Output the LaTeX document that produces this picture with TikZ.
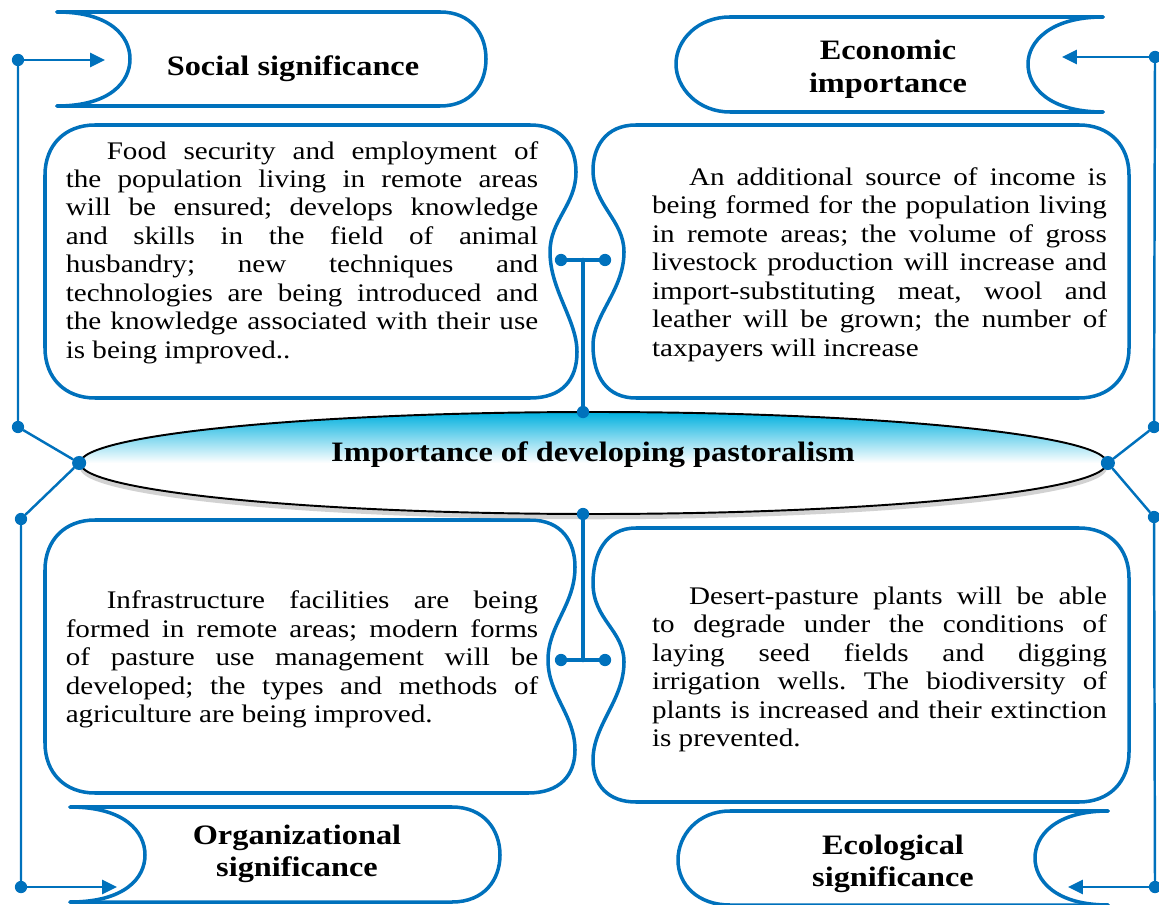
\documentclass[tikz,border=0pt]{standalone}
\usepackage{fontspec}
\setmainfont{Liberation Serif}[FakeStretch=1.15]
\usetikzlibrary{arrows.meta,shapes.geometric,shadows}
\definecolor{pblue}{RGB}{0,113,188}
\definecolor{pcyan}{RGB}{0,176,222}
\frenchspacing

\begin{document}
\begin{tikzpicture}[x=0.02cm, y=-0.02cm, line join=round, line cap=round,
    >={Triangle[length=8.5pt,width=8pt]},
    frame/.style={draw=pblue, line width=2pt},
    dot/.style={circle, fill=pblue, inner sep=0pt, minimum size=7pt},
    link/.style={draw=pblue, line width=1.4pt},
    stem/.style={draw=pblue, line width=2.6pt},
    head/.style={font=\fontsize{16}{18.5}\selectfont\bfseries, align=center, inner sep=0pt},
    body/.style={font=\fontsize{14.4}{16.2}\selectfont, align=justify, inner sep=0pt,
        execute at begin node={\tolerance=10000 \hbadness=10000 \hyphenpenalty=10000 \exhyphenpenalty=10000}}]
    \path[fill=white, use as bounding box] (0,0) rectangle (1159,905);
    % text boxes
    \draw[frame] (95,125) -- (530,125) .. controls (565,125) and (576,150) .. (576,172)
        .. controls (576,205) and (550,220) .. (550,252) .. controls (550,290) and (577,320) .. (577,352)
        .. controls (577,380) and (562,398) .. (530,398) -- (95,398) .. controls (65,398) and (45,378) .. (45,348)
        -- (45,175) .. controls (45,145) and (65,125) .. (95,125) -- cycle;
    \draw[frame] (1079,125) -- (636,125) .. controls (605,125) and (593,148) .. (593,170)
        .. controls (593,205) and (624,220) .. (624,252) .. controls (624,290) and (593,315) .. (593,345)
        .. controls (593,378) and (608,398) .. (636,398) -- (1079,398) .. controls (1109,398) and (1129,378) .. (1129,348)
        -- (1129,175) .. controls (1129,145) and (1109,125) .. (1079,125) -- cycle;
    \draw[frame] (95,520) -- (530,520) .. controls (562,520) and (575,542) .. (575,567)
        .. controls (575,605) and (548,625) .. (548,660) .. controls (548,695) and (575,715) .. (575,750)
        .. controls (575,775) and (560,793) .. (528,793) -- (95,793) .. controls (65,793) and (45,773) .. (45,743)
        -- (45,570) .. controls (45,540) and (65,520) .. (95,520) -- cycle;
    \draw[frame] (1079,528) -- (636,528) .. controls (605,528) and (593,555) .. (593,583)
        .. controls (593,620) and (624,630) .. (624,662) .. controls (624,700) and (593,725) .. (593,760)
        .. controls (593,785) and (608,802) .. (636,802) -- (1079,802) .. controls (1109,802) and (1129,782) .. (1129,752)
        -- (1129,578) .. controls (1129,548) and (1109,528) .. (1079,528) -- cycle;
    % banners
    \draw[frame] (57,12) -- (440,12) .. controls (472,12) and (486,35) .. (486,59) .. controls (486,83) and (472,106) .. (440,106) -- (57,106);
    \draw[frame] (57,12) .. controls (110,12) and (130,36) .. (130,59) .. controls (130,82) and (110,106) .. (57,106);
    \draw[frame] (1103,17) -- (730,17) .. controls (698,17) and (676,40) .. (676,64) .. controls (676,88) and (698,112) .. (730,112) -- (1103,112);
    \draw[frame] (1103,17) .. controls (1050,17) and (1028,42) .. (1028,64) .. controls (1028,88) and (1050,112) .. (1103,112);
    \draw[frame] (70,807) -- (452,807) .. controls (484,807) and (500,830) .. (500,855) .. controls (500,880) and (484,902) .. (452,902) -- (70,902);
    \draw[frame] (70,807) .. controls (125,807) and (145,832) .. (145,855) .. controls (145,878) and (125,902) .. (70,902);
    \draw[frame] (1108,811) -- (730,811) .. controls (698,811) and (678,835) .. (678,860) .. controls (678,885) and (698,905) .. (730,905) -- (1108,905);
    \draw[frame] (1108,811) .. controls (1055,811) and (1035,836) .. (1035,858) .. controls (1035,880) and (1055,905) .. (1108,905);
    \node[head] (social) at (293,69) {Social significance};
    \node[head] (economic) at (888,69) {Economic\\importance};
    \node[head] (organizational) at (297,854) {Organizational\\significance};
    \node[head] (ecological) at (893,864) {Ecological\\significance};
    % texts
    \node[body, text width=9.45cm] (socialtext) at (302,252.5) {\hspace*{0.82cm}Food security and employment of \linebreak
        the population living in remote areas \linebreak will be ensured; develops knowledge \linebreak
        and skills in the field of animal \linebreak husbandry; new techniques and \linebreak
        technologies are being introduced and \linebreak the knowledge associated with their use \linebreak
        is being improved..};
    \node[body, text width=9.1cm] (economictext) at (879.5,264.5) {\hspace*{0.74cm}An additional source of income is \linebreak
        being formed for the population living \linebreak in remote areas; the volume of gross \linebreak
        livestock production will increase and \linebreak import-substituting meat, wool and \linebreak
        leather will be grown; the number of \linebreak taxpayers will increase};
    \node[body, text width=9.45cm] (organizationaltext) at (302,659.5) {\hspace*{0.82cm}Infrastructure facilities are being \linebreak
        formed in remote areas; modern forms \linebreak of pasture use management will be \linebreak
        developed; the types and methods of \linebreak agriculture are being improved.};
    \node[body, text width=9.1cm] (ecologicaltext) at (879.5,669.5) {\hspace*{0.74cm}Desert-pasture plants will be able \linebreak
        to degrade under the conditions of \linebreak laying seed fields and digging \linebreak
        irrigation wells. The biodiversity of \linebreak plants is increased and their extinction \linebreak
        is prevented.};
    % centre
    \node[ellipse, draw=black, line width=1.1pt, minimum width=20.54cm, minimum height=2.04cm, inner sep=0pt,
        top color=pcyan, bottom color=white, middle color=white,
        drop shadow={shadow xshift=0pt, shadow yshift=-3pt, fill=black!35, opacity=.5}] (core) at (593.5,463) {};
    \node[head] (coretitle) at (593,455) {Importance of developing pastoralism};
    % connectors
    \foreach \n/\x/\y in {sL1/18/60, sL2/18/427, sL3/21/519, sL4/21/887, sR1/1155/57, sR2/1154/427, sR3/1154/517, sR4/1155/887,
        cTa/561/260, cTb/605/260, cT/583/412, cBa/561/660, cBb/605/660, cB/583/514}
        \node[dot] (\n) at (\x,\y) {};
    \node[dot, minimum size=8pt] (eL) at (core.west) {};
    \node[dot, minimum size=8pt] (eR) at (core.east) {};
    \coordinate (aL1) at (105,60);
    \coordinate (aL4) at (117,887);
    \coordinate (aR1) at (1062,57);
    \coordinate (aR4) at (1068,887);
    \coordinate (cTm) at (583,260);
    \coordinate (cBm) at (583,660);
    \draw[link] (sL1) -- (sL2) -- (eL) -- (sL3) -- (sL4);
    \draw[link] (sR1) -- (sR2) -- (eR) -- (sR3) -- (sR4);
    \draw[link,->] (sL1) -- (aL1);
    \draw[link,->] (sL4) -- (aL4);
    \draw[link,->] (sR1) -- (aR1);
    \draw[link,->] (sR4) -- (aR4);
    \draw[stem] (cT) -- (cTm);
    \draw[stem] (cTa) -- (cTb);
    \draw[stem] (cB) -- (cBm);
    \draw[stem] (cBa) -- (cBb);
\end{tikzpicture}
\end{document}
